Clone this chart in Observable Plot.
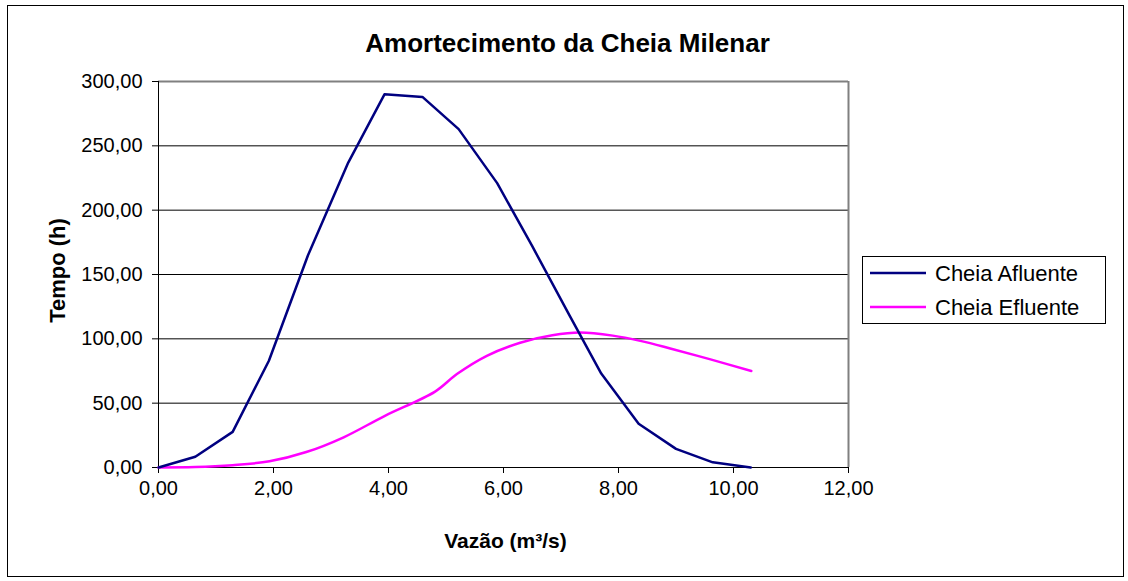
<!DOCTYPE html>
<html>
<head>
<meta charset="utf-8">
<script src="https://cdn.jsdelivr.net/npm/d3@7"></script>
<script src="https://cdn.jsdelivr.net/npm/@observablehq/plot@0.6"></script>
<style>
  html, body { margin: 0; padding: 0; background: #fff; }
  svg { display: block; }
</style>
</head>
<body>
<div id="chart"></div>
<script>
// ---- data ----
const seriesNames = ["Cheia Afluente", "Cheia Efluente"];
const afluenteX = [0, 0.64, 1.29, 1.92, 2.6, 3.3, 3.93, 4.59, 5.22, 5.89, 6.5, 7.15, 7.7, 8.35, 9.0, 9.64, 10.3];
const afluenteY = [0, 8.3, 27.7, 83, 165, 237, 290, 288, 263, 221, 172, 118, 73, 34, 14.5, 4, 0];
const efluenteX = [0, 0.64, 1.29, 1.93, 2.57, 3.22, 3.93, 4.81, 5.19, 5.71, 6.29, 6.85, 7.33, 7.9, 8.38, 8.9, 9.6, 10.31];
const efluenteY = [0, 0.3, 1.8, 4.8, 12, 23.5, 40, 59, 72.6, 86.8, 97, 102.8, 104.9, 102.5, 98.4, 92.5, 84, 75];
const xTicks = [0, 2, 4, 6, 8, 10, 12];
const yTicks = [0, 50, 100, 150, 200, 250, 300];
const titleText = "Amortecimento da Cheia Milenar";
const xLabel = "Vazão (m³/s)";
const yLabel = "Tempo (h)";
const colors = ["#000080", "#ff00ff"];

const afluente = afluenteX.map((x, i) => ({x, y: afluenteY[i]}));
const efluente = efluenteX.map((x, i) => ({x, y: efluenteY[i]}));
const fmt = d => d.toFixed(2).replace(".", ",");
const FONT = "'Liberation Sans', Arial, Helvetica, sans-serif";

const W = 1128, H = 581;
const chart = Plot.plot({
  width: W, height: H,
  marginLeft: 158, marginRight: 280, marginTop: 81, marginBottom: 114,
  style: {fontFamily: FONT, fontSize: "20px", background: "#fff", color: "#000", overflow: "visible"},
  x: {domain: [0, 12]},
  y: {domain: [0, 300]},
  marks: [
    Plot.gridY(yTicks, {stroke: "#000", strokeOpacity: 1}),
    Plot.ruleY([300], {stroke: "#808080", strokeWidth: 2}),
    Plot.ruleX([12], {stroke: "#808080", strokeWidth: 2}),
    Plot.axisY(yTicks, {tickSize: 6, tickPadding: 10, tickFormat: fmt, label: null, fontSize: 20, stroke: "#000"}),
    Plot.axisX(xTicks, {tickSize: 6, tickPadding: 7, tickFormat: fmt, label: null, fontSize: 20, stroke: "#000"}),
    Plot.ruleX([0], {stroke: "#000"}),
    Plot.ruleY([0], {stroke: "#000"}),
    Plot.line(efluente, {x: "x", y: "y", stroke: colors[1], strokeWidth: 2.5, curve: "catmull-rom"}),
    Plot.line(afluente, {x: "x", y: "y", stroke: colors[0], strokeWidth: 2.5}),
    Plot.text([yLabel], {frameAnchor: "left", textAnchor: "middle", lineAnchor: "middle", dx: -101, dy: -4, rotate: -90, fontSize: 22, fontWeight: "bold", fill: "#000"}),
    Plot.text([xLabel], {frameAnchor: "bottom", textAnchor: "middle", lineAnchor: "middle", dx: 2, dy: 74, fontSize: 21, fontWeight: "bold", fill: "#000"}),
    Plot.text([titleText], {frameAnchor: "top", textAnchor: "middle", lineAnchor: "middle", dx: 64, dy: -38, fontSize: 26, fontWeight: "bold", fill: "#000"})
  ]
});

const svg = d3.select(chart);
// outer chart border
svg.insert("rect", ":first-child")
  .attr("x", 7.5).attr("y", 5.5).attr("width", 1116).attr("height", 571)
  .attr("fill", "#fff").attr("stroke", "#000").attr("stroke-width", 1);

// legend
const lg = svg.append("g").attr("font-family", FONT).attr("font-size", 22).attr("text-anchor", "start");
lg.append("rect").attr("x", 862.5).attr("y", 256.5).attr("width", 243).attr("height", 67)
  .attr("fill", "#fff").attr("stroke", "#000");
seriesNames.forEach((name, i) => {
  const cy = 273 + i * 34;
  lg.append("line").attr("x1", 870).attr("x2", 926).attr("y1", cy).attr("y2", cy)
    .attr("stroke", colors[i]).attr("stroke-width", 2.5);
  lg.append("text").attr("x", 935).attr("y", cy).attr("dy", "0.35em").attr("text-anchor", "start")
    .attr("fill", "#000").text(name);
});

document.getElementById("chart").appendChild(chart);
</script>
</body>
</html>
